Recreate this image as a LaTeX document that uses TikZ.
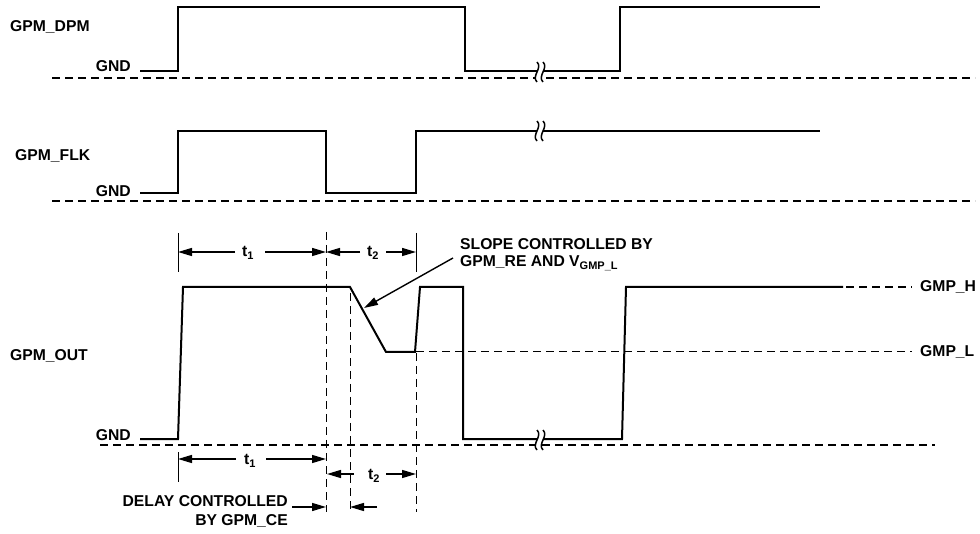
\documentclass[tikz,border=0pt]{standalone}
\usepackage{fontspec}
\setmainfont{Liberation Sans}
\usetikzlibrary{arrows.meta}
\tikzset{
 sig/.style={line width=2pt, line join=miter},
 basel/.style={line width=1.5pt, dash pattern=on 8pt off 5pt},
 guide/.style={line width=1pt, dash pattern=on 8pt off 5pt},
 tickl/.style={line width=1pt},
 dim/.style={line width=1.4pt, -{Triangle[length=14pt,width=8pt]}},
 lbl/.style={font=\fontsize{15.7}{18}\selectfont\bfseries, inner sep=0pt},
 brk/.pic={
  \fill[white] (-3,-10) .. controls (3,-4) and (-9,4) .. (-3,10) -- (3,10) .. controls (-3,4) and (9,-4) .. (3,-10) -- cycle;
  \draw[line width=1.5pt] (-3,-10) .. controls (3,-4) and (-9,4) .. (-3,10);
  \draw[line width=1.5pt] (3,-10) .. controls (9,-4) and (-3,4) .. (3,10);
 }
}
\begin{document}
\begin{tikzpicture}[x=1pt,y=-1pt]
\useasboundingbox[fill=white] (0,0) rectangle (980,534);
% baselines
\draw[basel] (52,78) -- (975,78);
\draw[basel] (52,201) -- (975,201);
\draw[basel] (100,445) -- (935,445);
% GPM_DPM
\draw[sig] (140,71) -- (178,71) -- (178,7) -- (465,7) -- (465,71) -- (620,71) -- (620,7) -- (820,7);
% GPM_FLK
\draw[sig] (140,193) -- (178,193) -- (178,131) -- (326,131) -- (326,193) -- (416,193) -- (416,131) -- (820,131);
% GPM_OUT
\draw[sig] (140,439) -- (178,439) -- (183,287) -- (350,287) -- (386,352) -- (415,352) -- (420,287) -- (463,287) -- (463,439) -- (622,439) -- (626,287) -- (843,287);
\draw[basel] (846,287) -- (912,287);
\draw[guide] (416,352) -- (912,352);
% breaks
\pic at (540,72) {brk};
\pic at (540,131) {brk};
\pic at (540,440) {brk};
% vertical guides
\draw[guide] (326,232) -- (326,512);
\draw[guide] (350,293) -- (350,512);
\draw[guide] (416,353) -- (416,512);
\draw[tickl] (178,233) -- (178,272);
\draw[tickl] (416,233) -- (416,272);
\draw[tickl] (178,452) -- (178,482);
% labels
\node[lbl, anchor=base west] (ldpm) at (10,32) {GPM\_DPM};
\node[lbl, anchor=base west] (lflk) at (15,161) {GPM\_FLK};
\node[lbl, anchor=base west] (lout) at (10,361) {GPM\_OUT};
\node[lbl, anchor=base east] (g1) at (131,72) {GND};
\node[lbl, anchor=base east] (g2) at (131,197) {GND};
\node[lbl, anchor=base east] (g3) at (131,440) {GND};
\node[lbl, anchor=west] (gh) at (920,287) {GMP\_H};
\node[lbl, anchor=west] (gl) at (920,352) {GMP\_L};
\node[lbl, anchor=base west] (s1) at (460,250) {SLOPE CONTROLLED BY};
\node[lbl, anchor=base west] (s2) at (460,267) {GPM\_RE AND V\textsubscript{GMP\_L}};
\node[lbl, anchor=base east] (d1) at (288,506) {DELAY CONTROLLED};
\node[lbl, anchor=base east] (d2) at (288,525) {BY GPM\_CE};
\node[lbl] (ta) at (248,253) {t\textsubscript{1}};
\node[lbl] (tb) at (373,253) {t\textsubscript{2}};
\node[lbl] (tc) at (250,461) {t\textsubscript{1}};
\node[lbl] (td) at (374,476) {t\textsubscript{2}};
% dimension arrows
\coordinate (a178t) at (178,252); \coordinate (a326t) at (326,252); \coordinate (a416t) at (416,252);
\draw[dim] (235,252) -- (a178t);
\draw[dim] (265,252) -- (a326t);
\draw[dim] (360,252) -- (a326t);
\draw[dim] (386,252) -- (a416t);
\coordinate (a178b) at (178,459); \coordinate (a326b) at (326,459);
\draw[dim] (236,459) -- (a178b);
\draw[dim] (266,459) -- (a326b);
\coordinate (a326c) at (327,474); \coordinate (a416c) at (416,474);
\draw[dim] (354,474) -- (a326c);
\draw[dim] (386,474) -- (a416c);
\coordinate (a326d) at (326,507); \coordinate (a350d) at (350,507);
\draw[dim] (292,507) -- (a326d);
\draw[dim] (377,507) -- (a350d);
% slope arrow
\coordinate (sa) at (453,258); \coordinate (sb) at (364,308);
\draw[dim] (sa) -- (sb);
\end{tikzpicture}
\end{document}
